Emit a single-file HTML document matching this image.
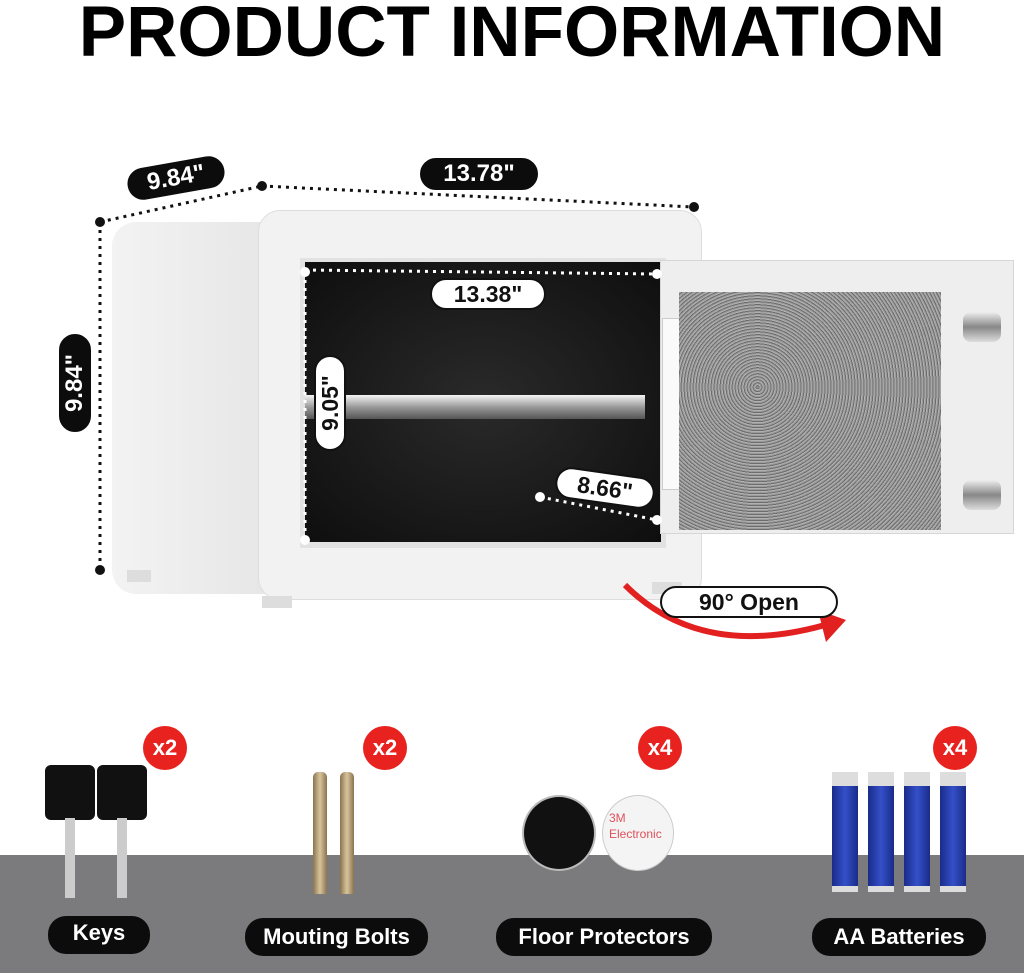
<!DOCTYPE html>
<html><head><meta charset="utf-8"><style>
body{margin:0;width:1024px;height:973px;position:relative;background:#fff;overflow:hidden;font-family:"Liberation Sans",sans-serif}
.a{position:absolute}
.pill{position:absolute;background:#0c0c0c;color:#fff;font-weight:bold;border-radius:18px;text-align:center;border:2px solid #fff;box-sizing:border-box}
.wp{position:absolute;background:#fff;color:#111;font-weight:bold;border-radius:16px;text-align:center;border:2px solid #111;box-sizing:border-box}
.red{position:absolute;width:44px;height:44px;border-radius:50%;background:#e8221f;color:#fff;font-weight:bold;font-size:22px;line-height:44px;text-align:center}
.bat{position:absolute;width:26px;height:100px;background:linear-gradient(90deg,#1a2c8a,#3450c8,#1a2c8a);border-top:14px solid #ddd;border-bottom:6px solid #ddd}
</style></head><body>
<div class="a" style="left:0;top:-8px;width:1024px;text-align:center;font-size:71px;font-weight:bold;letter-spacing:0px">PRODUCT INFORMATION</div>

<div class="a" style="left:112px;top:222px;width:160px;height:372px;background:linear-gradient(90deg,#f3f3f3,#e6e6e6);border-radius:24px 0 0 24px"></div>
<div class="a" style="left:258px;top:210px;width:442px;height:388px;background:#f2f2f2;border-radius:22px;border:1px solid #ddd"></div>
<div class="a" style="left:300px;top:258px;width:366px;height:290px;background:#e2e2e2"></div>
<div class="a" style="left:305px;top:262px;width:356px;height:280px;background:radial-gradient(#2a2a2a,#0e0e0e)"></div>
<div class="a" style="left:305px;top:395px;width:340px;height:24px;background:linear-gradient(#f5f5f5,#9a9a9a,#555)"></div>
<div class="a" style="left:262px;top:596px;width:30px;height:12px;background:#ddd"></div>
<div class="a" style="left:652px;top:582px;width:30px;height:12px;background:#ddd"></div>
<div class="a" style="left:127px;top:570px;width:24px;height:12px;background:#ddd"></div>
<div class="a" style="left:660px;top:260px;width:352px;height:272px;background:#eeeeee;border:1px solid #d6d6d6"></div>
<div class="a" style="left:662px;top:318px;width:18px;height:170px;background:#fafafa;border:1px solid #ccc"></div>
<div class="a" style="left:679px;top:292px;width:262px;height:238px;background:repeating-radial-gradient(circle at 30% 40%,#9a9a9a 0 1px,#6d6d6d 1px 2px,#b0b0b0 2px 3px);"></div>
<div class="a" style="left:963px;top:312px;width:38px;height:30px;border-radius:8px;background:linear-gradient(#eee,#888,#ddd)"></div>
<div class="a" style="left:963px;top:480px;width:38px;height:30px;border-radius:8px;background:linear-gradient(#eee,#888,#ddd)"></div>

<svg class="a" style="left:0;top:0" width="1024" height="973">
<g stroke="#111" stroke-width="3" stroke-dasharray="3 5" fill="none">
<line x1="100" y1="222" x2="262" y2="186"/>
<line x1="262" y1="186" x2="694" y2="207"/>
<line x1="100" y1="222" x2="100" y2="570"/>
</g>
<g fill="#111"><circle cx="100" cy="222" r="5"/><circle cx="262" cy="186" r="5"/><circle cx="694" cy="207" r="5"/><circle cx="100" cy="570" r="5"/></g>
<g stroke="#fff" stroke-width="3" stroke-dasharray="3 5" fill="none">
<line x1="305" y1="270" x2="657" y2="274"/>
<line x1="305" y1="272" x2="305" y2="540"/>
<line x1="540" y1="497" x2="657" y2="520"/>
</g>
<g fill="#fff"><circle cx="305" cy="272" r="5"/><circle cx="657" cy="274" r="5"/><circle cx="305" cy="540" r="5"/><circle cx="540" cy="497" r="5"/><circle cx="657" cy="520" r="5"/></g>
<path d="M625 585 Q700 660 825 625" stroke="#e32020" stroke-width="6" fill="none"/>
<polygon points="846,620 818,610 826,642" fill="#e32020"/>
</svg>

<div class="pill" style="left:125px;top:160px;width:102px;height:36px;font-size:24px;line-height:32px;transform:rotate(-10deg)">9.84"</div>
<div class="pill" style="left:418px;top:156px;width:122px;height:36px;font-size:24px;line-height:32px">13.78"</div>
<div class="pill" style="left:24px;top:365px;width:102px;height:36px;font-size:24px;line-height:32px;transform:rotate(-90deg)">9.84"</div>
<div class="wp" style="left:430px;top:278px;width:116px;height:32px;font-size:23px;line-height:28px">13.38"</div>
<div class="wp" style="left:282px;top:387px;width:96px;height:32px;font-size:23px;line-height:28px;transform:rotate(-90deg)">9.05"</div>
<div class="wp" style="left:555px;top:472px;width:100px;height:32px;font-size:23px;line-height:28px;transform:rotate(8deg)">8.66"</div>
<div class="wp" style="left:660px;top:586px;width:178px;height:32px;font-size:23px;line-height:28px">90° Open</div>

<div class="a" style="left:0;top:855px;width:1024px;height:118px;background:#7b7a7d"></div>
<div class="red" style="left:143px;top:726px">x2</div>
<div class="red" style="left:363px;top:726px">x2</div>
<div class="red" style="left:638px;top:726px">x4</div>
<div class="red" style="left:933px;top:726px">x4</div>
<div class="a" style="left:45px;top:765px;width:50px;height:55px;background:#111;border-radius:6px"></div>
<div class="a" style="left:97px;top:765px;width:50px;height:55px;background:#111;border-radius:6px"></div>
<div class="a" style="left:65px;top:818px;width:10px;height:80px;background:#ccc"></div>
<div class="a" style="left:117px;top:818px;width:10px;height:80px;background:#ccc"></div>
<div class="a" style="left:313px;top:772px;width:14px;height:122px;background:linear-gradient(90deg,#8a7450,#d8c49c,#8a7450);border-radius:5px 5px 0 0"></div>
<div class="a" style="left:340px;top:772px;width:14px;height:122px;background:linear-gradient(90deg,#8a7450,#d8c49c,#8a7450);border-radius:5px 5px 0 0"></div>
<div class="a" style="left:522px;top:795px;width:70px;height:72px;border-radius:50%;background:#111;border:2px solid #bbb"></div>
<div class="a" style="left:602px;top:795px;width:72px;height:76px;border-radius:50%;background:#f4f4f4;border:1px solid #ccc;color:#e0505a;font-size:12px;line-height:16px;padding:14px 0 0 6px;box-sizing:border-box">3M Electronic</div>
<div class="bat" style="left:832px;top:772px"></div>
<div class="bat" style="left:868px;top:772px"></div>
<div class="bat" style="left:904px;top:772px"></div>
<div class="bat" style="left:940px;top:772px"></div>

<div class="pill" style="left:48px;top:916px;width:102px;height:38px;font-size:22px;line-height:34px;border:none">Keys</div>
<div class="pill" style="left:245px;top:918px;width:183px;height:38px;font-size:22px;line-height:38px;border:none">Mouting Bolts</div>
<div class="pill" style="left:496px;top:918px;width:216px;height:38px;font-size:22px;line-height:38px;border:none">Floor Protectors</div>
<div class="pill" style="left:812px;top:918px;width:174px;height:38px;font-size:22px;line-height:38px;border:none">AA Batteries</div>
</body></html>
